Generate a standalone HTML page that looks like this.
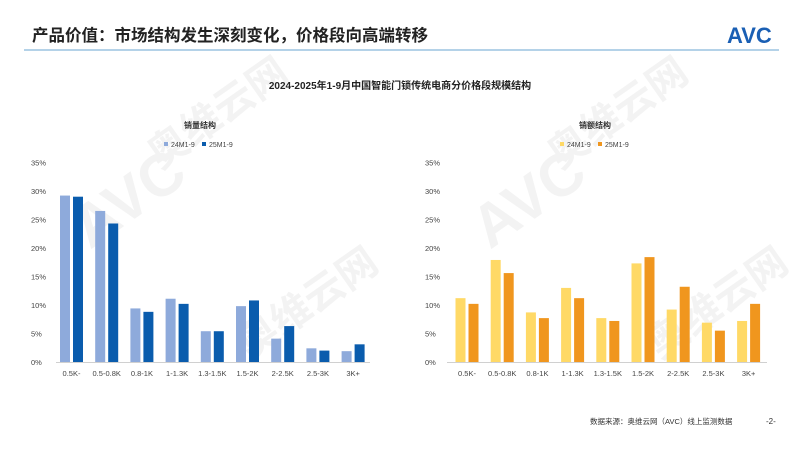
<!DOCTYPE html>
<html><head><meta charset="utf-8"><style>
body{margin:0;width:800px;height:449px;background:#fff;overflow:hidden;font-family:"Liberation Sans","Noto Sans CJK SC",sans-serif}
</style></head><body>
<svg width="800" height="449" xmlns="http://www.w3.org/2000/svg" font-family="Liberation Sans, Noto Sans CJK SC, sans-serif">
<text x="32" y="41" font-size="16.5" font-weight="bold" fill="#222">产品价值：市场结构发生深刻变化，价格段向高端转移</text>
<text x="727" y="43" font-size="22" font-weight="bold" fill="#1a5fb4">AVC</text>
<line x1="24" y1="50" x2="779" y2="50" stroke="#9cc3e0" stroke-width="1.5"/>
<text x="400" y="89" font-size="10" font-weight="bold" fill="#222" text-anchor="middle">2024-2025年1-9月中国智能门锁传统电商分价格段规模结构</text>
<g opacity="0.1" fill="#888" font-weight="bold">
<text x="90" y="250" font-size="60" transform="rotate(-35 90 250)">AVC</text>
<text x="160" y="170" font-size="40" transform="rotate(-35 160 170)">奥维云网</text>
<text x="490" y="250" font-size="60" transform="rotate(-35 490 250)">AVC</text>
<text x="560" y="170" font-size="40" transform="rotate(-35 560 170)">奥维云网</text>
<text x="250" y="360" font-size="40" transform="rotate(-35 250 360)">奥维云网</text>
<text x="660" y="360" font-size="40" transform="rotate(-35 660 360)">奥维云网</text>
</g>
<text x="200" y="128" font-size="8" font-weight="bold" fill="#333" text-anchor="middle">销量结构</text>
<rect x="164" y="142" width="4" height="4" fill="#8eaadb"/><text x="171" y="147" font-size="7" fill="#444">24M1-9</text>
<rect x="202" y="142" width="4" height="4" fill="#0a5cad"/><text x="209" y="147" font-size="7" fill="#444">25M1-9</text>
<text x="595" y="128" font-size="8" font-weight="bold" fill="#333" text-anchor="middle">销额结构</text>
<rect x="560" y="142" width="4" height="4" fill="#ffd966"/><text x="567" y="147" font-size="7" fill="#444">24M1-9</text>
<rect x="598" y="142" width="4" height="4" fill="#f0961e"/><text x="605" y="147" font-size="7" fill="#444">25M1-9</text>
<g id="c"></g>
<text x="590" y="424" font-size="7.5" fill="#333">数据来源：奥维云网（AVC）线上监测数据</text>
<text x="766" y="424" font-size="8" fill="#333">-2-</text>
</svg>
<script>
const g=document.getElementById('c');let s='';
const cats=["0.5K-","0.5-0.8K","0.8-1K","1-1.3K","1.3-1.5K","1.5-2K","2-2.5K","2.5-3K","3K+"];
function chart(x0,c0,a,b,ca,cb,lx,ax1,ax2){
for(let k=0;k<=7;k++){const y=362-k*28.5;s+=`<text x="${lx}" y="${y+3}" font-size="7.5" fill="#444">${k*5}%</text>`;}
s+=`<line x1="${ax1}" y1="362.5" x2="${ax2}" y2="362.5" stroke="#d0d0d0"/>`;
for(let i=0;i<9;i++){const c=c0+i*35.2;
const h1=a[i]*5.7,h2=b[i]*5.7;
s+=`<rect x="${c-11.5}" y="${362-h1}" width="10" height="${h1}" fill="${ca}"/>`;
s+=`<rect x="${c+1.5}" y="${362-h2}" width="10" height="${h2}" fill="${cb}"/>`;
s+=`<text x="${c}" y="376" font-size="7.5" fill="#444" text-anchor="middle">${cats[i]}</text>`;}
}
chart(0,71.5,[29.2,26.5,9.4,11.1,5.4,9.8,4.1,2.4,1.9],[29.0,24.3,8.8,10.2,5.4,10.8,6.3,2.0,3.1],"#8eaadb","#0a5cad",31,56,370);
chart(0,467,[11.2,17.9,8.7,13.0,7.7,17.3,9.2,6.9,7.2],[10.2,15.6,7.7,11.2,7.2,18.4,13.2,5.5,10.2],"#ffd966","#f0961e",425,447,767);
g.innerHTML=s;
</script>
</body></html>
